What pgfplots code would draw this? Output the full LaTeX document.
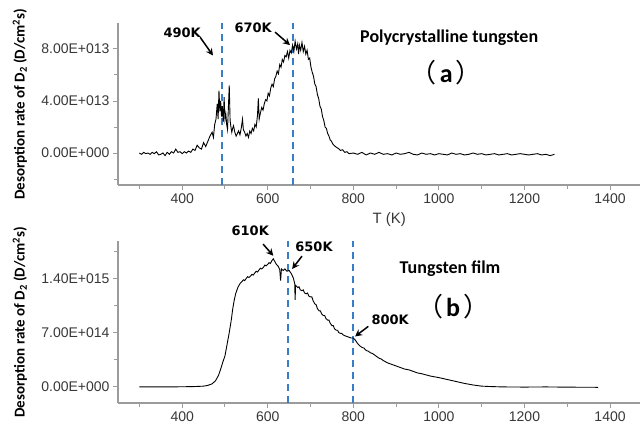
\documentclass[border=0pt]{standalone}
\usepackage{pgfplots}
\pgfplotsset{compat=1.18}
\usepackage{fontspec}
\setmainfont{Liberation Sans}
\newfontfamily\calib{Carlito}
\newfontfamily\dejavu{DejaVu Sans}
\newfontfamily\cjk{Noto Sans CJK SC}
\usetikzlibrary{arrows.meta}
\definecolor{axisgray}{RGB}{155,155,155}
\definecolor{ticktext}{RGB}{55,55,55}
\definecolor{refblue}{RGB}{55,125,200}

\pgfplotsset{
  tdsstyle/.style={
    scale only axis, width=522pt, height=162pt,
    xmin=250, xmax=1470,
    axis lines=left, axis line style={-, axisgray, line width=1.1pt},
    tick align=outside, major tick length=5pt, minor tick length=4pt,
    every tick/.style={axisgray, line width=1pt},
    xtick={400,600,...,1400}, minor xtick={300,500,...,1300},
    tick label style={font=\fontsize{14}{16}\selectfont, text=ticktext},
    /pgf/number format/assume math mode=true,
    /pgf/number format/1000 sep={},
    clip=false,
    ylabel style={at={(axis description cs:-0.188,0.5)}, anchor=center,
      font=\calib\bfseries\fontsize{15}{17}\selectfont},
    ylabel={Desorption rate of D\textsubscript{2} (D/cm\textsuperscript{2}s)},
  },
}
\tikzset{
  peaklabel/.style={font=\dejavu\bfseries\fontsize{13}{15}\selectfont},
  peakarrow/.style={-{Stealth[length=7pt,width=7pt]}, line width=1.5pt},
  refline/.style={refblue, line width=1.8pt, dash pattern=on 7pt off 5pt},
  tds/.style={black, line width=0.9pt},
  panel/.style={font=\fontsize{26}{28}\selectfont},
}

\begin{document}
\begin{tikzpicture}[x=1pt,y=1pt]
\useasboundingbox (0,0) rectangle (643,427);

% (a) polycrystalline tungsten, rate in 1e13 D/cm^2 s
\begin{axis}[tdsstyle, at={(118pt,242pt)}, anchor=south west,
  ymin=-2.46, ymax=10,
  ytick={0,4,8}, yticklabels={0.00E+000,4.00E+013,8.00E+013},
  minor ytick={-2,2,6}]
  \addplot[refline] coordinates {(493,-2.46) (493,10)};
  \addplot[refline] coordinates {(659,-2.46) (659,10)};
  \addplot[tds] coordinates {
    (300,0.0) (305,-0.1) (310,0.05) (315,-0.05) (320,0.0) (325,-0.1)
    (330,0.05) (335,-0.05) (340,0.1) (345,-0.15) (350,-0.1) (355,0.0)
    (360,-0.2) (365,0.05) (370,-0.1) (375,0.1) (380,0.0) (385,0.3)
    (390,0.05) (395,0.1) (400,-0.05) (405,0.1) (410,0.0) (415,0.15)
    (420,0.05) (425,0.3) (430,0.2) (435,0.6) (440,0.4) (445,0.3)
    (450,0.8) (455,0.5) (460,0.9) (465,1.3) (470,1.6) (473,1.2)
    (476,2.2) (479,2.6) (482,3.8) (484,2.6) (486,4.8) (488,3.2)
    (490,4.0) (492,2.8) (494,3.6) (496,2.4) (498,4.3) (500,2.6)
    (502,3.0) (504,2.2) (506,1.8) (508,3.5) (510,5.2) (512,2.5)
    (514,2.0) (516,1.6) (518,1.9) (520,2.1) (523,1.6) (526,1.3)
    (529,1.5) (532,1.7) (535,1.4) (538,1.9) (541,2.6) (543,1.8)
    (546,1.6) (549,1.3) (552,1.5) (555,1.2) (558,1.7) (561,1.5)
    (564,1.9) (567,1.7) (570,2.2) (573,2.0) (576,2.9) (578,4.2)
    (580,2.6) (583,3.1) (586,3.5) (589,3.3) (592,3.8) (595,4.1)
    (598,4.0) (601,4.6) (604,4.4) (607,5.0) (610,5.3) (613,5.1)
    (616,5.7) (619,5.9) (622,6.3) (625,6.1) (628,6.8) (631,6.6)
    (634,7.2) (637,7.0) (640,7.5) (643,7.4) (646,7.8) (649,7.3)
    (652,7.9) (655,7.7) (658,8.3) (661,7.8) (664,8.6) (667,8.0)
    (670,8.4) (672,7.6) (674,8.3) (677,7.9) (680,8.5) (683,7.8)
    (686,8.2) (689,7.6) (692,7.9) (695,7.2) (698,7.3) (701,6.6)
    (704,6.2) (707,5.9) (710,5.3) (713,5.1) (716,4.5) (719,4.2)
    (722,3.6) (725,3.4) (728,2.8) (731,2.5) (734,2.0) (737,1.9)
    (740,1.5) (743,1.3) (746,1.0) (749,0.9) (752,0.7) (756,0.55)
    (760,0.45) (765,0.35) (770,0.2) (775,0.25) (780,0.05) (785,0.1)
    (790,-0.05) (800,0.0) (810,-0.1) (820,0.05) (830,-0.15) (840,0.0)
    (850,-0.1) (860,0.05) (870,-0.1) (880,-0.05) (890,-0.15) (900,0.0)
    (910,-0.1) (920,-0.05) (930,0.05) (940,-0.1) (950,-0.15) (960,0.0)
    (970,-0.1) (980,-0.05) (990,-0.15) (1000,-0.05) (1010,-0.1) (1020,-0.15)
    (1030,0.0) (1040,-0.1) (1050,-0.05) (1060,-0.15) (1070,-0.1) (1080,0.0)
    (1090,-0.1) (1100,-0.05) (1110,-0.15) (1120,-0.1) (1130,-0.05) (1140,-0.15)
    (1150,-0.1) (1160,-0.05) (1170,-0.15) (1180,-0.1) (1190,-0.05) (1200,-0.1)
    (1210,-0.15) (1220,-0.1) (1230,-0.05) (1240,-0.15) (1250,-0.1) (1260,-0.2)
    (1270,-0.1)
  };
  \node[peaklabel] at (axis cs:400,9.23) {490K};
  \draw[peakarrow] (axis cs:442,8.9) -- (axis cs:472,7.5);
  \node[peaklabel] at (axis cs:566,9.6) {670K};
  \draw[peakarrow] (axis cs:617,9.3) -- (axis cs:652,8.3);
  \node[font=\calib\bfseries\fontsize{18}{20}\selectfont] at (axis cs:1024,8.9) {Polycrystalline tungsten};
  \node[panel] at (axis cs:1017,6.15) {{\cjk （}\hspace{3pt}{\calib\bfseries a}\hspace{3pt}{\cjk ）}};
  \node[font=\fontsize{15}{17}\selectfont, text=ticktext] at (axis cs:884,-5.15) {T (K)};
\end{axis}

% (b) tungsten film, rate in 1e14 D/cm^2 s
\begin{axis}[tdsstyle, at={(118pt,24pt)}, anchor=south west,
  ymin=-2.07, ymax=18.8,
  ytick={0,7,14}, yticklabels={0.00E+000,7.00E+014,1.40E+015},
  minor ytick={3.5,10.5,17.5}]
  \addplot[refline] coordinates {(648,-2.07) (648,18.8)};
  \addplot[refline] coordinates {(800,-2.07) (800,18.8)};
  \addplot[tds] coordinates {
    (300,0.0) (350,0.0) (400,0.02) (430,0.05) (450,0.1) (460,0.2)
    (470,0.4) (478,0.8) (485,1.5) (490,2.3) (495,3.2) (500,4.0)
    (505,5.5) (510,7.0) (515,8.7) (518,10.0) (521,11.0) (525,12.0)
    (530,12.8) (535,13.3) (540,13.6) (543,13.8) (546,13.7) (550,14.0)
    (553,14.2) (556,14.1) (560,14.3) (563,14.5) (566,14.4) (570,14.7)
    (573,14.9) (576,14.8) (580,15.1) (583,15.3) (586,15.2) (590,15.4)
    (593,15.7) (596,15.6) (600,15.8) (603,16.0) (606,15.9) (610,16.3)
    (613,16.5) (616,16.2) (620,15.8) (625,15.5) (628,15.1) (630,13.7)
    (632,15.2) (636,15.0) (640,15.2) (645,14.9) (650,15.0) (655,14.6)
    (660,14.0) (663,13.3) (664,11.2) (665,13.1) (670,12.8) (673,12.9)
    (676,12.5) (680,12.4) (683,12.5) (686,12.1) (690,12.0) (693,12.1)
    (696,11.7) (700,11.6) (703,11.6) (706,11.1) (710,10.7) (713,10.6)
    (716,10.1) (720,9.8) (723,9.8) (726,9.4) (730,9.2) (733,9.2)
    (736,8.8) (740,8.6) (743,8.6) (746,8.2) (750,7.9) (753,7.9)
    (756,7.5) (760,7.3) (763,7.3) (766,7.0) (770,6.9) (773,6.9)
    (776,6.7) (780,6.6) (785,6.5) (790,6.4) (795,6.3) (800,6.3)
    (805,6.0) (810,5.6) (815,5.3) (820,5.1) (825,5.0) (830,4.7)
    (835,4.6) (840,4.4) (845,4.3) (850,4.1) (855,3.9) (860,3.7)
    (865,3.6) (870,3.4) (880,3.1) (890,2.9) (900,2.7) (910,2.5)
    (920,2.3) (930,2.2) (940,2.0) (950,1.8) (960,1.7) (970,1.55)
    (980,1.4) (990,1.3) (1000,1.2) (1020,0.95) (1040,0.7) (1060,0.45)
    (1080,0.25) (1100,0.1) (1120,0.05) (1150,0.0) (1200,-0.02) (1250,0.0)
    (1300,-0.03) (1372,-0.05)
  };
  \node[peaklabel] at (axis cs:559,20.1) {610K};
  \draw[peakarrow] (axis cs:589,18.4) -- (axis cs:613,16.9);
  \node[peaklabel] at (axis cs:708,18.0) {650K};
  \draw[peakarrow] (axis cs:680,16.85) -- (axis cs:657,15.2);
  \node[peaklabel] at (axis cs:886,8.7) {800K};
  \draw[peakarrow] (axis cs:835,7.8) -- (axis cs:804,6.5);
  \node[font=\calib\bfseries\fontsize{18}{20}\selectfont] at (axis cs:1026,15.2) {Tungsten film};
  \node[panel] at (axis cs:1033,10.4) {{\cjk （}\hspace{3pt}{\calib\bfseries b}\hspace{3pt}{\cjk ）}};
\end{axis}
\end{tikzpicture}
\end{document}
